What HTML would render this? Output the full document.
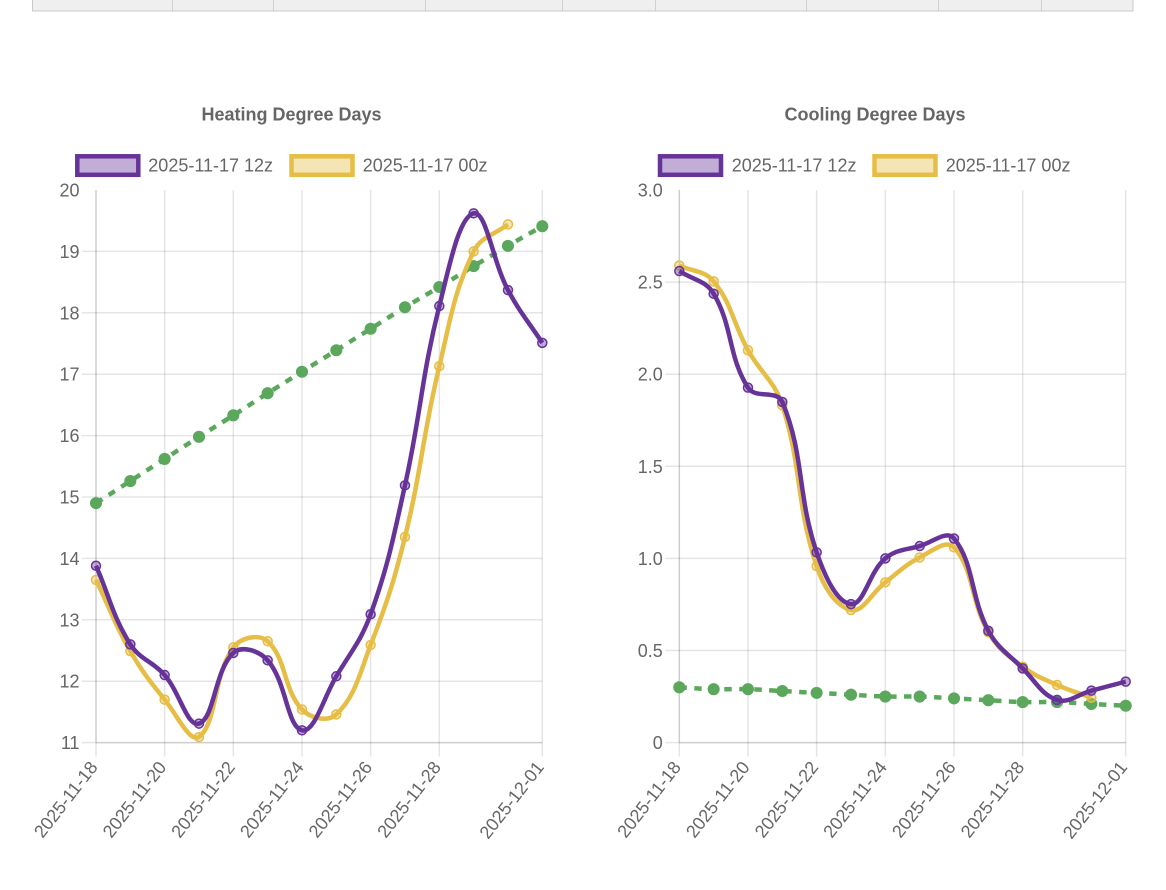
<!DOCTYPE html>
<html>
<head>
<meta charset="utf-8">
<style>
html,body{margin:0;padding:0;background:#fff;width:1166px;height:890px;overflow:hidden;}
svg{position:absolute;left:0;top:0;font-family:"Liberation Sans",Arial,sans-serif;}
.t{font-size:18px;fill:#666;}
.title{font-size:18px;fill:#666;font-weight:bold;}
</style>
</head>
<body>
<svg id="s" width="1166" height="890" viewBox="0 0 1166 890" xmlns="http://www.w3.org/2000/svg">
  <!-- top table strip -->
  <rect x="32.5" y="-3" width="1100.5" height="14" fill="#efefef" stroke="#c8c8c8" stroke-width="1"/>
  <g stroke="#d0d0d0" stroke-width="1">
    <line x1="172.5" y1="0" x2="172.5" y2="10.5"/>
    <line x1="273.5" y1="0" x2="273.5" y2="10.5"/>
    <line x1="425.5" y1="0" x2="425.5" y2="10.5"/>
    <line x1="562.5" y1="0" x2="562.5" y2="10.5"/>
    <line x1="655.5" y1="0" x2="655.5" y2="10.5"/>
    <line x1="806.5" y1="0" x2="806.5" y2="10.5"/>
    <line x1="938.5" y1="0" x2="938.5" y2="10.5"/>
    <line x1="1041.5" y1="0" x2="1041.5" y2="10.5"/>
  </g>

  <g id="grid"></g>

  <!-- titles -->
  <text class="title" x="291.5" y="120.5" text-anchor="middle">Heating Degree Days</text>
  <text class="title" x="875" y="120.5" text-anchor="middle">Cooling Degree Days</text>

  <!-- legends -->
  <rect x="77.3" y="156.3" width="61" height="18.5" fill="rgba(102,51,153,0.4)" stroke="#663399" stroke-width="4.5"/>
  <text class="t" x="148.3" y="171.5">2025-11-17 12z</text>
  <rect x="291.5" y="156.3" width="61" height="18.5" fill="rgba(230,189,69,0.4)" stroke="#e6bd45" stroke-width="4.5"/>
  <text class="t" x="362.7" y="171.5">2025-11-17 00z</text>

  <rect x="660" y="156.3" width="61" height="18.5" fill="rgba(102,51,153,0.4)" stroke="#663399" stroke-width="4.5"/>
  <text class="t" x="731.7" y="171.5">2025-11-17 12z</text>
  <rect x="874.5" y="156.3" width="61" height="18.5" fill="rgba(230,189,69,0.4)" stroke="#e6bd45" stroke-width="4.5"/>
  <text class="t" x="945.7" y="171.5">2025-11-17 00z</text>

  <!-- left y labels -->
  <g class="t" text-anchor="end">
    <text x="79.5" y="749.1">11</text>
    <text x="79.5" y="687.7">12</text>
    <text x="79.5" y="626.3">13</text>
    <text x="79.5" y="564.9">14</text>
    <text x="79.5" y="503.5">15</text>
    <text x="79.5" y="442.1">16</text>
    <text x="79.5" y="380.7">17</text>
    <text x="79.5" y="319.3">18</text>
    <text x="79.5" y="257.9">19</text>
    <text x="79.5" y="196.5">20</text>
  </g>
  <!-- right y labels -->
  <g class="t" text-anchor="end">
    <text x="662.8" y="749.1">0</text>
    <text x="662.8" y="657.0">0.5</text>
    <text x="662.8" y="564.9">1.0</text>
    <text x="662.8" y="472.8">1.5</text>
    <text x="662.8" y="380.7">2.0</text>
    <text x="662.8" y="288.6">2.5</text>
    <text x="662.8" y="196.5">3.0</text>
  </g>

  <!-- left x labels -->
  <g class="t" text-anchor="end">
    <text transform="translate(93.4,763.5) rotate(-52)" x="0" y="6.45">2025-11-18</text>
    <text transform="translate(162.1,763.5) rotate(-52)" x="0" y="6.45">2025-11-20</text>
    <text transform="translate(230.7,763.5) rotate(-52)" x="0" y="6.45">2025-11-22</text>
    <text transform="translate(299.4,763.5) rotate(-52)" x="0" y="6.45">2025-11-24</text>
    <text transform="translate(368.0,763.5) rotate(-52)" x="0" y="6.45">2025-11-26</text>
    <text transform="translate(436.7,763.5) rotate(-52)" x="0" y="6.45">2025-11-28</text>
    <text transform="translate(539.7,763.5) rotate(-52)" x="0" y="6.45">2025-12-01</text>
  </g>
  <!-- right x labels -->
  <g class="t" text-anchor="end">
    <text transform="translate(676.7,763.5) rotate(-52)" x="0" y="6.45">2025-11-18</text>
    <text transform="translate(745.4,763.5) rotate(-52)" x="0" y="6.45">2025-11-20</text>
    <text transform="translate(814.1,763.5) rotate(-52)" x="0" y="6.45">2025-11-22</text>
    <text transform="translate(882.7,763.5) rotate(-52)" x="0" y="6.45">2025-11-24</text>
    <text transform="translate(951.4,763.5) rotate(-52)" x="0" y="6.45">2025-11-26</text>
    <text transform="translate(1020.1,763.5) rotate(-52)" x="0" y="6.45">2025-11-28</text>
    <text transform="translate(1123.1,763.5) rotate(-52)" x="0" y="6.45">2025-12-01</text>
  </g>

  <g id="data"></g>
</svg>
<script>
(function(){
  var NS='http://www.w3.org/2000/svg';
  var grid=document.getElementById('grid');
  var data=document.getElementById('data');
  function el(tag,attrs,parent){var e=document.createElementNS(NS,tag);for(var k in attrs)e.setAttribute(k,attrs[k]);parent.appendChild(e);return e;}
  var TOP=190, BOT=742.6, TL=14;
  var GC='rgba(0,0,0,0.1)';

  function chart(cfg){
    var L=cfg.left, R=cfg.right, step=(R-L)/13;
    function X(i){return L+i*step;}
    function Y(v){return BOT-(v-cfg.min)*(BOT-TOP)/(cfg.max-cfg.min);}
    // horizontal gridlines (no top line)
    cfg.yt.forEach(function(v){
      if(v===cfg.max) return;
      var y=Y(v);
      el('line',{x1:L-TL,y1:y,x2:R,y2:y,stroke:GC,'stroke-width':1.5},grid);
    });
    // vertical gridlines
    [0,2,4,6,8,10,13].forEach(function(i){
      var x=X(i);
      el('line',{x1:x,y1:TOP,x2:x,y2:BOT+TL,stroke:GC,'stroke-width':1.5},grid);
    });
    // borders
    el('line',{x1:L,y1:TOP,x2:L,y2:BOT,stroke:GC,'stroke-width':1.5},grid);
    el('line',{x1:L,y1:BOT,x2:R,y2:BOT,stroke:GC,'stroke-width':1.5},grid);

    function path(vals){
      var p=vals.map(function(v,i){return {x:X(i),y:Y(v)};});
      var n=p.length, cp=[], t=0.4;
      for(var i=0;i<n;i++){
        var prev=p[i-1]||p[i], cur=p[i], next=p[i+1]||p[i];
        var d01=Math.hypot(cur.x-prev.x,cur.y-prev.y), d12=Math.hypot(next.x-cur.x,next.y-cur.y);
        var s01=d01/(d01+d12), s12=d12/(d01+d12);
        if(isNaN(s01))s01=0; if(isNaN(s12))s12=0;
        var fa=t*s01, fb=t*s12;
        var c={px:cur.x-fa*(next.x-prev.x),py:cur.y-fa*(next.y-prev.y),nx:cur.x+fb*(next.x-prev.x),ny:cur.y+fb*(next.y-prev.y)};
        c.px=Math.max(L,Math.min(R,c.px)); c.nx=Math.max(L,Math.min(R,c.nx));
        c.py=Math.max(TOP,Math.min(BOT,c.py)); c.ny=Math.max(TOP,Math.min(BOT,c.ny));
        cp.push(c);
      }
      var d='M'+p[0].x.toFixed(2)+','+p[0].y.toFixed(2);
      for(var j=1;j<n;j++){
        d+=' C'+cp[j-1].nx.toFixed(2)+','+cp[j-1].ny.toFixed(2)+' '+cp[j].px.toFixed(2)+','+cp[j].py.toFixed(2)+' '+p[j].x.toFixed(2)+','+p[j].y.toFixed(2);
      }
      return {d:d,p:p};
    }
    function series(vals,color,fill,r,dash){
      var s=path(vals);
      var a={d:s.d,fill:'none',stroke:color,'stroke-width':4.5};
      if(dash)a['stroke-dasharray']=dash;
      el('path',a,data);
      s.p.forEach(function(pt){
        el('circle',{cx:pt.x,cy:pt.y,r:r,fill:fill,stroke:color,'stroke-width':1.5},data);
      });
    }
    series(cfg.g,'#5ba85d','#5ba85d',5.3,'7.5 7.5');
    series(cfg.y,'#e6bd45','rgba(230,189,69,0.4)',4.5);
    series(cfg.p,'#663399','rgba(102,51,153,0.4)',4.5);
  }

  chart({left:96,right:542.3,min:11,max:20,yt:[11,12,13,14,15,16,17,18,19,20],
    p:[13.88,12.6,12.1,11.31,12.46,12.34,11.2,12.08,13.09,15.19,18.11,19.62,18.37,17.51],
    y:[13.65,12.49,11.7,11.09,12.55,12.65,11.54,11.46,12.59,14.35,17.13,19.0,19.44],
    g:[14.9,15.26,15.62,15.98,16.33,16.69,17.04,17.39,17.74,18.09,18.42,18.76,19.09,19.41]});

  chart({left:679.3,right:1125.7,min:0,max:3,yt:[0,0.5,1,1.5,2,2.5,3],
    p:[2.56,2.437,1.927,1.849,1.033,0.752,1.0,1.067,1.108,0.607,0.403,0.232,0.282,0.331],
    y:[2.59,2.504,2.13,1.831,0.958,0.72,0.87,1.005,1.06,0.599,0.412,0.313,0.244],
    g:[0.30,0.29,0.29,0.28,0.27,0.26,0.25,0.25,0.24,0.23,0.22,0.22,0.21,0.20]});
})();
</script>
</body>
</html>
